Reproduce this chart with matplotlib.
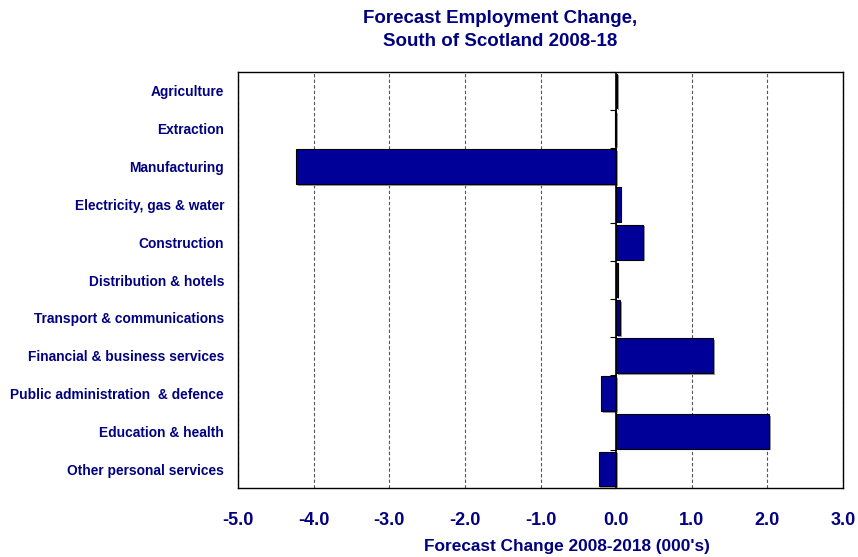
import matplotlib
matplotlib.use("Agg")
import matplotlib.pyplot as plt
import matplotlib.patheffects as pe
import numpy as np

plt.rcParams['font.family'] = ['Liberation Sans', 'DejaVu Sans']

sectors = [
    "Agriculture",
    "Extraction",
    "Manufacturing",
    "Electricity, gas & water",
    "Construction",
    "Distribution & hotels",
    "Transport & communications",
    "Financial & business services",
    "Public administration  & defence",
    "Education & health",
    "Other personal services",
]
change = [0.01, -0.02, -4.23, 0.06, 0.36, 0.02, 0.05, 1.28, -0.20, 2.02, -0.23]
xticks = [-5.0, -4.0, -3.0, -2.0, -1.0, 0.0, 1.0, 2.0, 3.0]

navy = "#000080"
bar_blue = "#000099"

fig = plt.figure(figsize=(8.58, 5.57), dpi=100)
ax = fig.add_axes([238 / 858, 1 - 488 / 557, (843 - 238) / 858, (488 - 72) / 557])

y = np.arange(len(sectors))
ax.barh(y, change, height=0.92, color=bar_blue, edgecolor="black", linewidth=0.8,
        zorder=3,
        path_effects=[pe.SimplePatchShadow(offset=(1.2, -1.2), shadow_rgbFace="#9a9a9a", alpha=1.0),
                      pe.Normal()])

ax.set_xlim(-5.0, 3.0)
ax.set_ylim(len(sectors) - 0.5, -0.5)
ax.set_xticks(xticks)
ax.set_xticklabels([f"{t:.1f}" for t in xticks], fontsize=13, fontweight="bold", color=navy)
ax.set_yticks(y)
ax.set_yticklabels(sectors, fontsize=9.9, fontweight="bold", color=navy)
ax.tick_params(axis="y", length=0, pad=10)
ax.tick_params(axis="x", length=0, pad=17)

ax.grid(axis="x", color="#555555", linestyle=(0, (3, 2)), linewidth=0.8, zorder=1)
ax.axvline(0, color="black", linewidth=1.2, zorder=4)

# category dividers on the zero line
zero_axis = ax.secondary_yaxis(5.0 / 8.0)
zero_axis.set_yticks(np.arange(len(sectors) + 1) - 0.5)
zero_axis.set_yticklabels([])
zero_axis.tick_params(axis="y", which="both", left=True, right=False, length=4, width=0.8,
                      direction="out", color="black")
zero_axis.spines["left"].set_visible(False)
zero_axis.spines["right"].set_visible(False)

for s in ax.spines.values():
    s.set_color("black")
    s.set_linewidth(1.0)

fig.text(567 / 858, 1 - 546 / 557, "Forecast Change 2008-2018 (000's)", ha="center", va="center",
         fontsize=12.4, fontweight="bold", color=navy)

fig.text(500 / 858, 1 - 30 / 557, "Forecast Employment Change,\nSouth of Scotland 2008-18",
         ha="center", va="center", fontsize=13.5, fontweight="bold", color=navy,
         linespacing=1.45)

fig.savefig("out.png", dpi=100)
